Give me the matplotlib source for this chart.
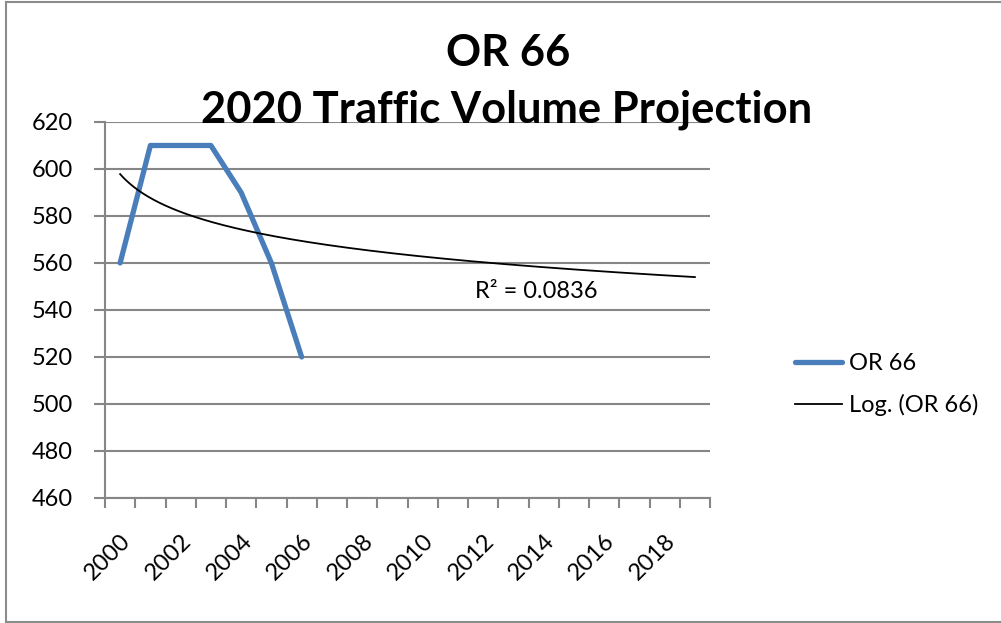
import numpy as np
import matplotlib
matplotlib.use("Agg")
import matplotlib.pyplot as plt
from matplotlib.lines import Line2D
from matplotlib.transforms import ScaledTranslation

plt.rcParams['font.family'] = ['Lato', 'DejaVu Sans']

# ---- data ----
years = list(range(2000, 2020))
or66_years = [2000, 2001, 2002, 2003, 2004, 2005, 2006]
or66_volume = [560, 610, 610, 610, 590, 560, 520]
y_ticks = [460, 480, 500, 520, 540, 560, 580, 600, 620]
title_lines = ["OR 66", "2020 Traffic Volume Projection"]

GRID = '#868686'
BLUE = '#4A7EBB'

# logarithmic trendline, Excel-style: x = category index starting at 1
xi = np.array([years.index(y) + 1 for y in or66_years], dtype=float)
yv = np.array(or66_volume, dtype=float)
slope, intercept = np.polyfit(np.log(xi), yv, 1)
fit = slope * np.log(xi) + intercept
r2 = 1 - np.sum((yv - fit) ** 2) / np.sum((yv - yv.mean()) ** 2)

fig = plt.figure(figsize=(10.01, 6.23), dpi=100)
fig.patch.set_facecolor('white')
ax = fig.add_axes([0.1049, 0.2007, 0.6044, 0.6035])

cats = np.arange(len(years))
ax.plot([years.index(y) for y in or66_years], or66_volume, color=BLUE, lw=3.8,
        solid_capstyle='round', solid_joinstyle='round', zorder=3)
xs = np.linspace(1, len(years), 400)
ax.plot(xs - 1, slope * np.log(xs) + intercept, color='black', lw=1.3, zorder=4)

ax.set_xlim(-0.5, len(years) - 0.5)
ax.set_ylim(460, 620)
ax.set_yticks(y_ticks)
ax.set_yticklabels([str(v) for v in y_ticks], fontsize=17)
ax.yaxis.grid(True, color=GRID, lw=1.5)
ax.set_axisbelow(True)
ax.tick_params(axis='y', length=8, width=1.5, color=GRID, pad=15)

ax.set_xticks(cats[::2])
ax.set_xticklabels([str(y) for y in years[::2]], rotation=45, ha='right',
                   rotation_mode='anchor', fontsize=17)
for lbl in ax.get_xticklabels():
    lbl.set_transform(lbl.get_transform() + ScaledTranslation(4 / 100, 0, fig.dpi_scale_trans))
ax.set_xticks(np.arange(-0.5, len(years)), minor=True)
ax.tick_params(axis='x', which='major', length=0, pad=23)
ax.tick_params(axis='x', which='minor', length=7, width=1.5, color=GRID)

for side in ['top', 'right']:
    ax.spines[side].set_visible(False)
for side in ['left', 'bottom']:
    ax.spines[side].set_color(GRID)
    ax.spines[side].set_linewidth(1.5)

ax.text(11.73, 545, f"R\u00b2 = {r2:.4f}", fontsize=17, ha='left', va='baseline')

fig.text(0.508, 1 - 66 / 623, title_lines[0], fontsize=31.3, fontweight='bold',
         ha='center', va='baseline')
fig.text(0.506, 1 - 123 / 623, title_lines[1], fontsize=31.3, fontweight='bold',
         ha='center', va='baseline')

handles = [Line2D([], [], color=BLUE, lw=3.8, solid_capstyle='round'),
           Line2D([], [], color='black', lw=1.3)]
fig.legend(handles, ['OR 66', 'Log. (OR 66)'], loc='center left',
           bbox_to_anchor=(0.773, 0.383), frameon=False, fontsize=17,
           handlelength=2.0, handletextpad=0.3, labelspacing=0.85)

# chart border
fig.add_artist(Line2D([6 / 1001, 6 / 1001], [1 - 2 / 623, 1 - 622 / 623], color='#8c8c8c', lw=1.5))
fig.add_artist(Line2D([6 / 1001, 1.0], [1 - 2 / 623, 1 - 2 / 623], color='#8c8c8c', lw=1.5))
fig.add_artist(Line2D([6 / 1001, 1.0], [1 - 622 / 623, 1 - 622 / 623], color='#8c8c8c', lw=1.5))

fig.savefig('out.png', dpi=100)
